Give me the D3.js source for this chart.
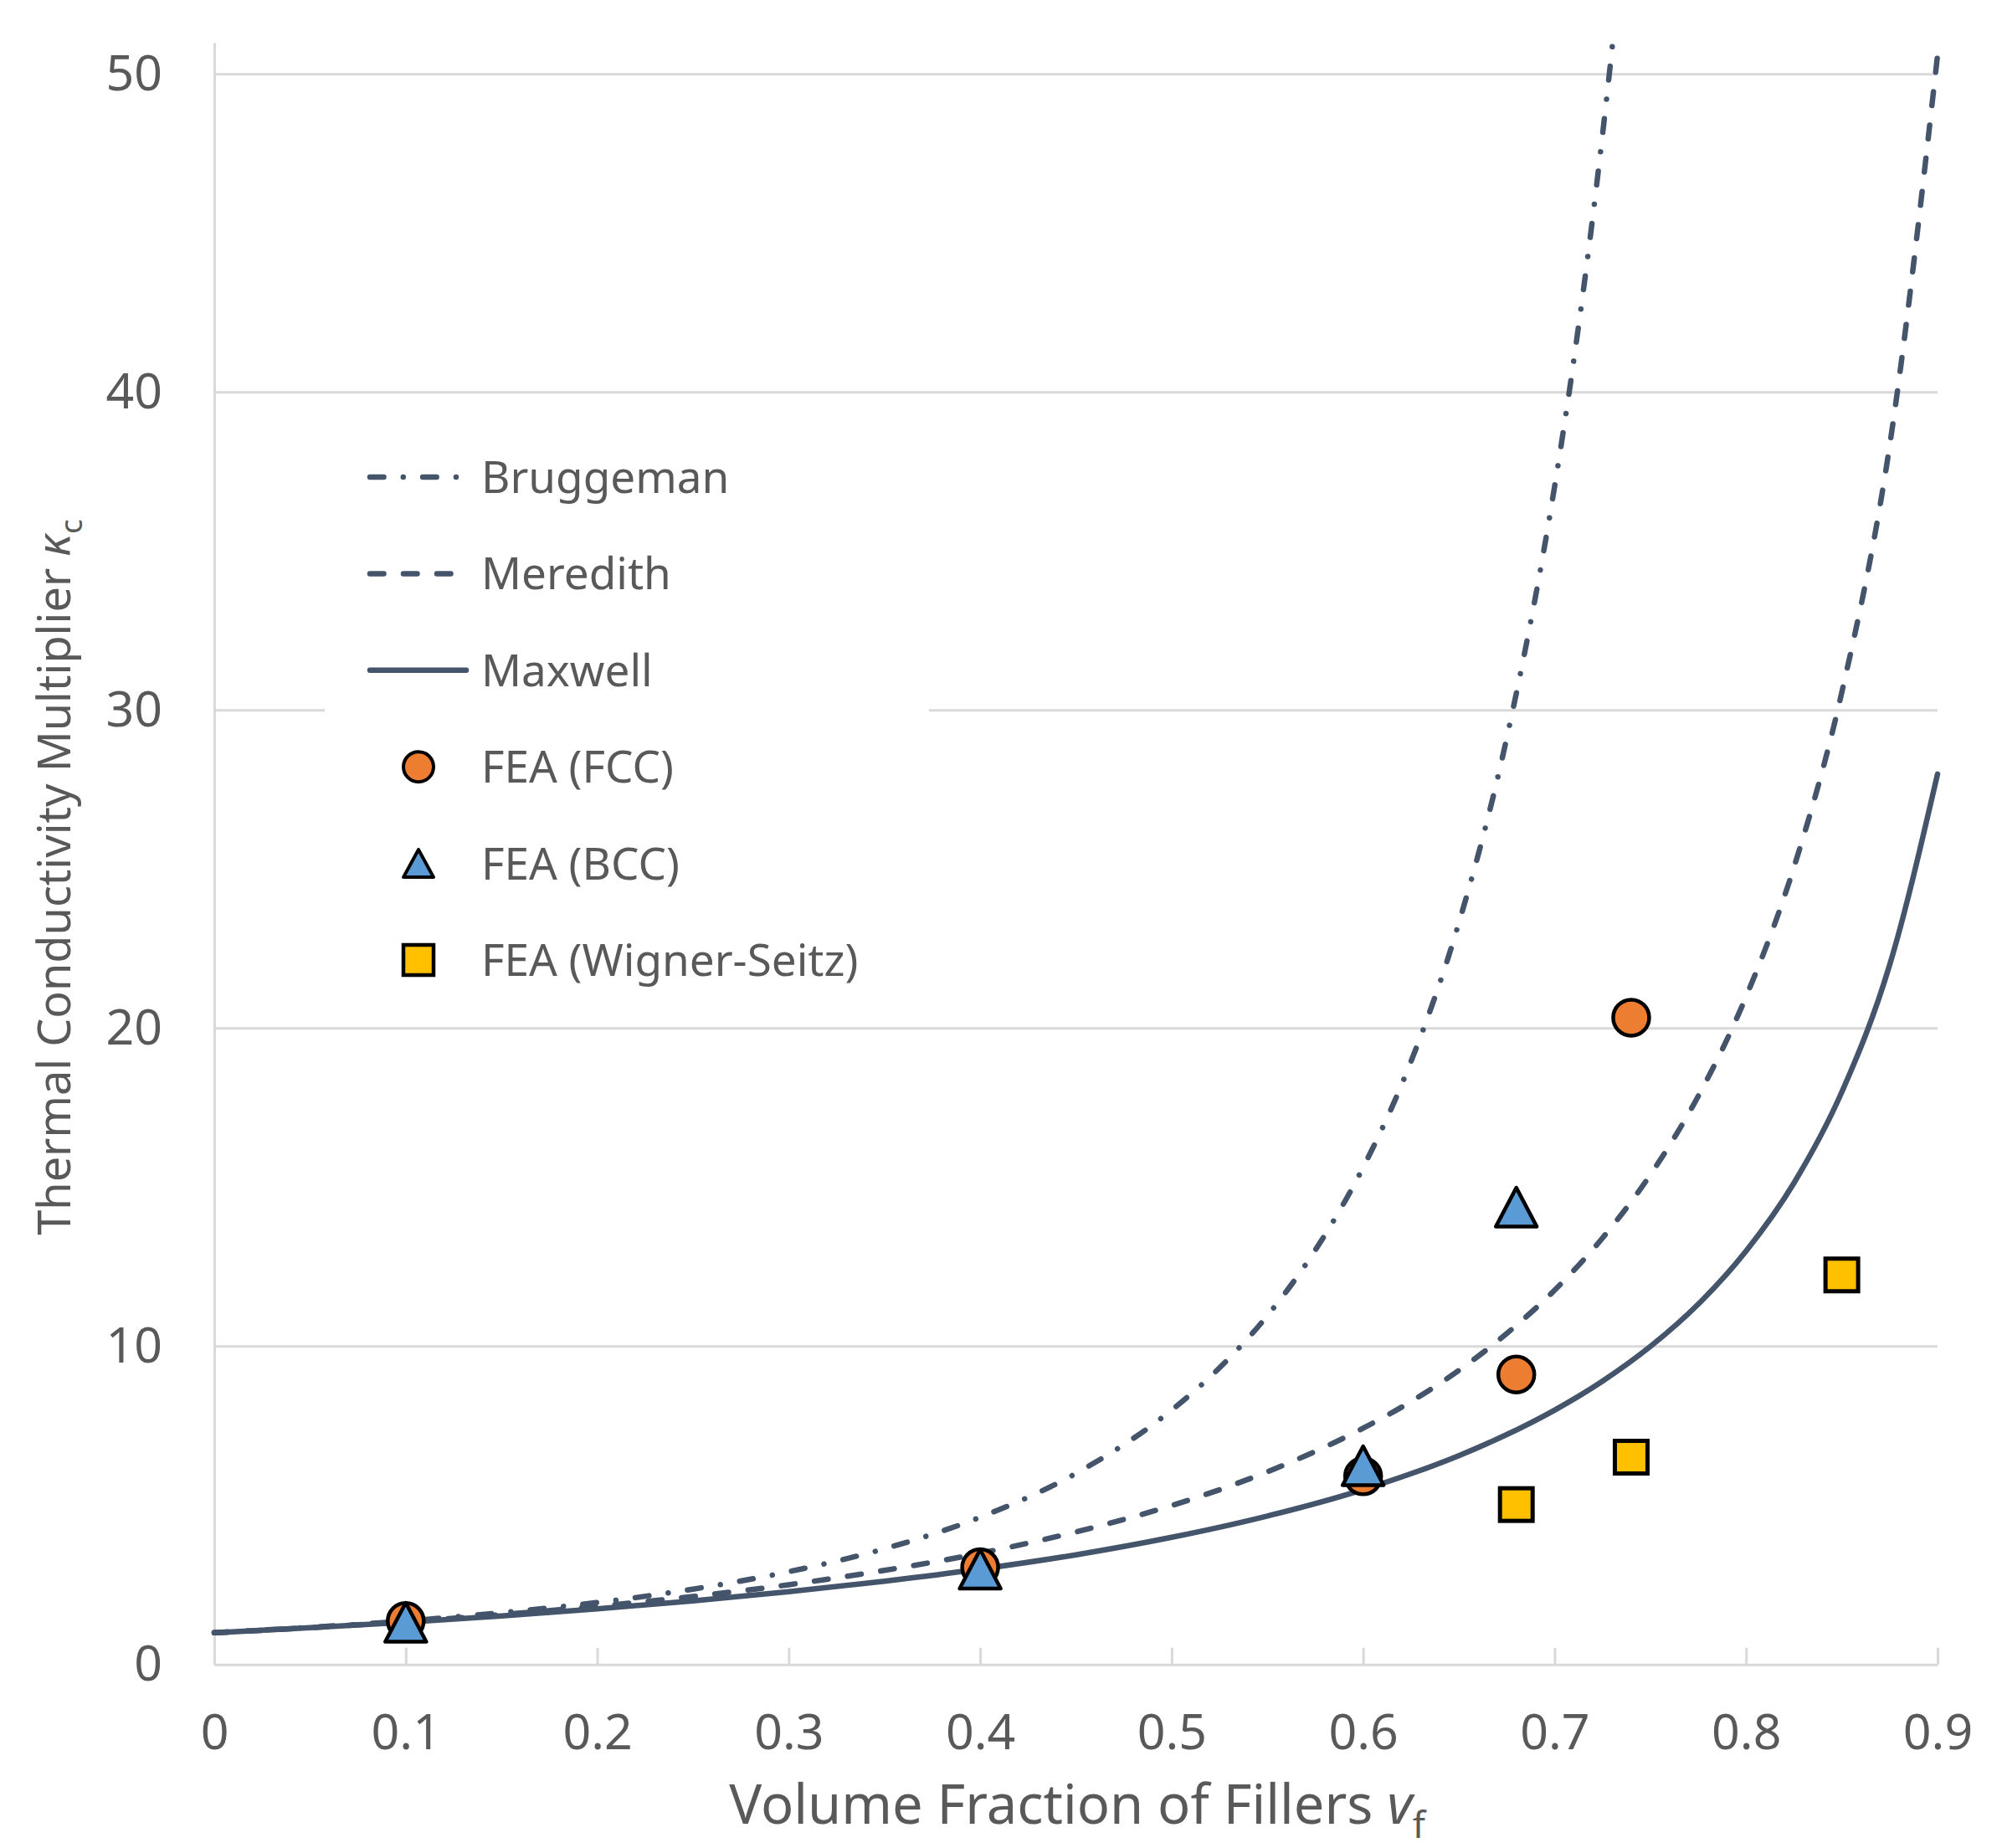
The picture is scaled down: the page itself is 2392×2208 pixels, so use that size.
<!DOCTYPE html>
<html>
<head>
<meta charset="utf-8">
<script src="https://cdn.jsdelivr.net/npm/d3@7"></script>
<style>
  body { margin: 0; background: #fff; }
  text { font-family: "Noto Sans", "Open Sans", sans-serif; fill: #595959; }
</style>
</head>
<body>
<div id="chart"></div>
<script>
// model curves
const modelX = [0, 0.05, 0.1, 0.15, 0.2, 0.25, 0.3, 0.35, 0.4, 0.45, 0.5, 0.55, 0.6, 0.625, 0.65, 0.675, 0.7, 0.725, 0.75, 0.775, 0.8, 0.825, 0.85, 0.875, 0.9]
const maxwell = [1.00, 1.16, 1.33, 1.53, 1.75, 2.00, 2.29, 2.62, 3.00, 3.45, 4.00, 4.67, 5.50, 6.00, 6.57, 7.23, 8.00, 8.91, 10.0, 11.33, 13.0, 15.14, 18.0, 22.0, 28.0]
const meredith = [1.00, 1.16, 1.35, 1.57, 1.83, 2.14, 2.51, 2.96, 3.50, 4.17, 5.00, 6.06, 7.43, 8.27, 9.25, 10.41, 11.77, 13.41, 15.40, 17.87, 21.0, 25.07, 30.57, 38.33, 50.6]
const bruggemanX = [0, 0.05, 0.1, 0.15, 0.2, 0.25, 0.3, 0.35, 0.4, 0.45, 0.5, 0.525, 0.55, 0.575, 0.6, 0.625, 0.65, 0.675, 0.7, 0.71, 0.72, 0.73, 0.735]
const bruggeman = [1.00, 1.17, 1.37, 1.63, 1.95, 2.37, 2.92, 3.64, 4.63, 6.01, 8.00, 9.33, 10.97, 13.03, 15.63, 18.96, 23.32, 29.13, 37.04, 41.0, 45.55, 50.81, 53.74]

// FEA points
const fccX = [0.1, 0.4, 0.6, 0.68, 0.74]
const fccY = [1.37, 3.06, 5.92, 9.12, 20.34]
const bccX = [0.1, 0.4, 0.6, 0.68]
const bccY = [1.33, 3.00, 6.25, 14.38]
const wsX = [0.68, 0.74, 0.85]
const wsY = [5.03, 6.52, 12.25]

const xTicks = [0, 0.1, 0.2, 0.3, 0.4, 0.5, 0.6, 0.7, 0.8, 0.9]
const yTicks = [0, 10, 20, 30, 40, 50]
const legendLabels = ["Bruggeman", "Meredith", "Maxwell", "FEA (FCC)", "FEA (BCC)", "FEA (Wigner-Seitz)"]

var width = 2392
var height = 2208
var marginLeft = 256
var marginRight = 77
var marginTop = 50.8
var marginBottom = 219.2
var lineColor = "#44546A"
var gridColor = "#D9D9D9"
var lineWidth = 6.5

const svg = d3.select("#chart")
    .append("svg")
    .attr("width", width)
    .attr("height", height)

var xScale = d3.scaleLinear()
    .domain([0, 0.9])
    .range([marginLeft, width - marginRight])

var yScale = d3.scaleLinear()
    .domain([0, 51])
    .range([height - marginBottom, marginTop])

// gridlines
svg.append("g")
    .selectAll("line")
    .data(yTicks.filter(d => d > 0))
    .join("line")
    .attr("x1", xScale(0))
    .attr("x2", xScale(0.9))
    .attr("y1", d => yScale(d))
    .attr("y2", d => yScale(d))
    .attr("stroke", gridColor)
    .attr("stroke-width", 3)

// y axis
var yAxis = d3.axisLeft(yScale)
    .tickValues(yTicks)
    .tickFormat(d3.format("d"))
    .tickSize(0)
    .tickPadding(62)
var gy = svg.append("g")
    .attr("transform", "translate(" + xScale(0) + ",0)")
    .call(yAxis)
gy.select(".domain").attr("stroke", gridColor).attr("stroke-width", 3)
gy.selectAll("text").attr("font-size", 59).style("fill", "#595959")
    .style("font-family", '"Noto Sans", sans-serif')

// x axis, ticks pointing inward
var xAxis = d3.axisBottom(xScale)
    .tickValues(xTicks)
    .tickFormat(d => d === 0 ? "0" : d3.format(".1f")(d))
    .tickSizeInner(-20)
    .tickSizeOuter(0)
    .tickPadding(60)
var gx = svg.append("g")
    .attr("transform", "translate(0," + yScale(0) + ")")
    .call(xAxis)
gx.select(".domain").attr("stroke", gridColor).attr("stroke-width", 3)
gx.selectAll(".tick line").attr("stroke", gridColor).attr("stroke-width", 3)
gx.selectAll("text").attr("font-size", 59).attr("dy", "0").style("fill", "#595959")
    .style("font-family", '"Noto Sans", sans-serif')
gx.selectAll("text").attr("y", 101)

// clip for curves
svg.append("clipPath")
    .attr("id", "plotClip")
    .append("rect")
    .attr("x", xScale(0) - 10)
    .attr("y", yScale(51))
    .attr("width", xScale(0.9) - xScale(0) + 14)
    .attr("height", yScale(0) - yScale(51) + 10)

var line = d3.line()
    .x(d => xScale(d[0]))
    .y(d => yScale(d[1]))
    .curve(d3.curveMonotoneX)

var brugDash = "16.5 23.3 0.01 23.3"
var meredDash = "16.5 23.5"

var curves = [
    { xs: bruggemanX, ys: bruggeman, dash: brugDash },
    { xs: modelX, ys: meredith, dash: meredDash },
    { xs: modelX, ys: maxwell, dash: null }
]
var curveG = svg.append("g").attr("clip-path", "url(#plotClip)")
curves.forEach(c => {
    curveG.append("path")
        .datum(c.xs.map((x, i) => [x, c.ys[i]]))
        .attr("fill", "none")
        .attr("stroke", lineColor)
        .attr("stroke-width", lineWidth)
        .attr("stroke-linecap", "round")
        .attr("stroke-dasharray", c.dash)
        .attr("d", line)
})

function trianglePath(w, h) {
    return "M0," + (-h / 2) + "L" + (w / 2) + "," + (h / 2) + "L" + (-w / 2) + "," + (h / 2) + "Z"
}

// FCC circles
svg.append("g")
    .selectAll("circle")
    .data(fccX.map((x, i) => [x, fccY[i]]))
    .join("circle")
    .attr("cx", d => xScale(d[0]))
    .attr("cy", d => yScale(d[1]))
    .attr("r", 21.5)
    .attr("fill", "#ED7D31")
    .attr("stroke", "#000")
    .attr("stroke-width", 4.5)

// BCC triangles
svg.append("g")
    .selectAll("path")
    .data(bccX.map((x, i) => [x, bccY[i]]))
    .join("path")
    .attr("transform", d => "translate(" + xScale(d[0]) + "," + yScale(d[1]) + ")")
    .attr("d", trianglePath(49, 46.5))
    .attr("fill", "#5B9BD5")
    .attr("stroke", "#000")
    .attr("stroke-width", 4.5)
    .attr("stroke-linejoin", "round")

// Wigner-Seitz squares
svg.append("g")
    .selectAll("rect")
    .data(wsX.map((x, i) => [x, wsY[i]]))
    .join("rect")
    .attr("x", d => xScale(d[0]) - 19.5)
    .attr("y", d => yScale(d[1]) - 19.5)
    .attr("width", 39)
    .attr("height", 39)
    .attr("fill", "#FFC000")
    .attr("stroke", "#000")
    .attr("stroke-width", 5)

// axis titles
var xTitle = svg.append("text")
    .attr("x", 1287)
    .attr("y", 2179)
    .attr("text-anchor", "middle")
    .attr("font-size", 65)
xTitle.append("tspan").text("Volume Fraction of Fillers ")
xTitle.append("tspan").attr("font-style", "italic").text("v")
xTitle.append("tspan").attr("font-size", 44).attr("dy", 17).text("f")

var yTitle = svg.append("text")
    .attr("transform", "translate(84,1048) rotate(-90)")
    .attr("text-anchor", "middle")
    .attr("font-size", 54)
yTitle.append("tspan").text("Thermal Conductivity Multiplier ")
yTitle.append("tspan").attr("font-style", "italic").text("κ")
yTitle.append("tspan").attr("font-size", 37).attr("dy", 14).text("c")

// legend
var legend = svg.append("g")
legend.append("rect")
    .attr("x", 388)
    .attr("y", 505)
    .attr("width", 722)
    .attr("height", 690)
    .attr("fill", "#fff")

var legendY = d3.scalePoint()
    .domain(legendLabels)
    .range([570, 1147])

var legendDash = [brugDash, meredDash, null]
legendLabels.slice(0, 3).forEach((name, i) => {
    legend.append("line")
        .attr("x1", 442)
        .attr("x2", i === 2 ? 557 : 548)
        .attr("y1", legendY(name))
        .attr("y2", legendY(name))
        .attr("stroke", lineColor)
        .attr("stroke-width", lineWidth)
        .attr("stroke-linecap", "round")
        .attr("stroke-dasharray", legendDash[i])
})
legend.append("circle")
    .attr("cx", 500)
    .attr("cy", legendY("FEA (FCC)"))
    .attr("r", 18)
    .attr("fill", "#ED7D31")
    .attr("stroke", "#000")
    .attr("stroke-width", 4)
legend.append("path")
    .attr("transform", "translate(500," + legendY("FEA (BCC)") + ")")
    .attr("d", trianglePath(36, 33))
    .attr("fill", "#5B9BD5")
    .attr("stroke", "#000")
    .attr("stroke-width", 4)
    .attr("stroke-linejoin", "round")
legend.append("rect")
    .attr("x", 500 - 18)
    .attr("y", legendY("FEA (Wigner-Seitz)") - 18)
    .attr("width", 36)
    .attr("height", 36)
    .attr("fill", "#FFC000")
    .attr("stroke", "#000")
    .attr("stroke-width", 4.5)

legend.selectAll("text.lbl")
    .data(legendLabels)
    .join("text")
    .attr("class", "lbl")
    .attr("x", 575)
    .attr("y", d => legendY(d) + 19)
    .attr("font-size", 53)
    .text(d => d)
</script>
</body>
</html>
